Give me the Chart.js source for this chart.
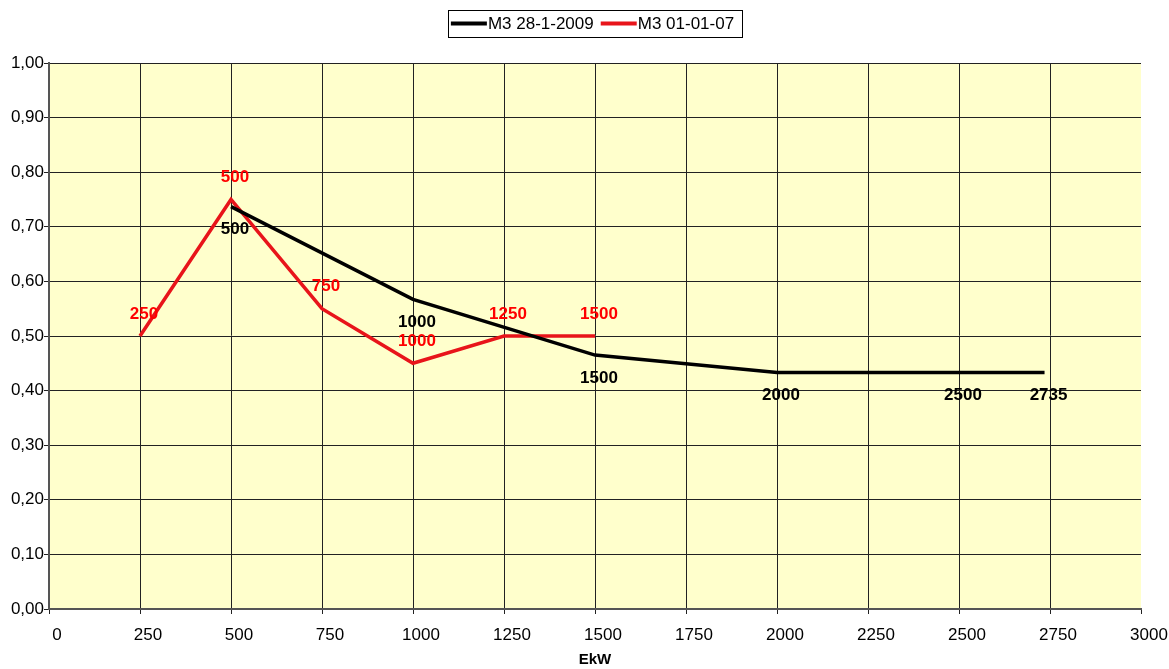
<!DOCTYPE html>
<html>
<head>
<meta charset="utf-8">
<script src="https://cdn.jsdelivr.net/npm/chart.js@4/dist/chart.umd.min.js"></script>
<style>
	html, body { margin: 0; padding: 0; background: #fff; }
	#wrap { width: 1169px; height: 669px; }
</style>
</head>
<body>
<div id="wrap"><canvas id="grafico" width="1169" height="669"></canvas></div>
<script>
// dados
const xNovo = [500, 1000, 1500, 2000, 2500, 2735];
const yNovo = [0.737, 0.567, 0.465, 0.433, 0.433, 0.433];
const xAntigo = [250, 500, 750, 1000, 1250, 1500];
const yAntigo = [0.50, 0.75, 0.55, 0.45, 0.50, 0.50];
const nomes = ['M3 28-1-2009', 'M3 01-01-07'];
const tituloX = 'EkW';

const fonte = '"Liberation Sans", Arial, sans-serif';

const pontos = (xs, ys) => xs.map((x, i) => ({ x: x, y: ys[i] }));

// fundo amarelo da área do gráfico
const fundo = {
	id: 'fundo',
	beforeDraw(chart) {
		const a = chart.chartArea, ctx = chart.ctx;
		ctx.save();
		ctx.fillStyle = '#ffffcc';
		ctx.fillRect(a.left, a.top, a.right - a.left, a.bottom - a.top);
		ctx.restore();
	}
};

// rótulos dos pontos (valor de x)
const rotulos = {
	id: 'rotulos',
	afterDatasetsDraw(chart) {
		const ctx = chart.ctx;
		ctx.save();
		ctx.font = 'bold 17px ' + fonte;
		ctx.textAlign = 'center';
		ctx.textBaseline = 'middle';
		chart.data.datasets.forEach((ds, i) => {
			const meta = chart.getDatasetMeta(i);
			const dy = i === 0 ? 23 : -22;
			ctx.fillStyle = i === 0 ? '#000' : '#ff0000';
			meta.data.forEach((p, j) => {
				ctx.fillText(String(ds.data[j].x), p.x + 4, p.y + dy);
			});
		});
		ctx.restore();
	}
};

// legenda com moldura
const legenda = {
	id: 'legenda',
	afterDraw(chart) {
		const ctx = chart.ctx;
		ctx.save();
		ctx.font = '17px ' + fonte;
		const amostra = 36;
		const larguras = chart.data.datasets.map(ds => amostra + 2 + ctx.measureText(ds.label).width + 6);
		const total = larguras.reduce((a, b) => a + b, 0) + 4;
		const meio = (chart.chartArea.left + chart.chartArea.right) / 2;
		let x = meio - total / 2;
		const topo = 10, alt = 27;
		ctx.strokeStyle = '#000';
		ctx.lineWidth = 1;
		ctx.strokeRect(Math.round(x) + 0.5, topo + 0.5, Math.round(total), alt);
		x += 3;
		const yc = topo + alt / 2 + 1;
		chart.data.datasets.forEach((ds, i) => {
			ctx.strokeStyle = ds.borderColor;
			ctx.lineWidth = 4;
			ctx.beginPath();
			ctx.moveTo(x, yc - 1);
			ctx.lineTo(x + amostra, yc - 1);
			ctx.stroke();
			ctx.fillStyle = '#000';
			ctx.textBaseline = 'middle';
			ctx.fillText(ds.label, x + amostra + 1, yc);
			x += larguras[i];
		});
		ctx.restore();
	}
};

const ctx = document.getElementById('grafico').getContext('2d');
const chart = new Chart(ctx, {
	type: 'line',
	data: {
		datasets: [{
			label: nomes[0],
			data: pontos(xNovo, yNovo),
			borderColor: '#000000',
			borderWidth: 3.5,
			pointRadius: 0,
			tension: 0
		}, {
			label: nomes[1],
			data: pontos(xAntigo, yAntigo),
			borderColor: '#e8141a',
			borderWidth: 3.5,
			pointRadius: 0,
			tension: 0
		}]
	},
	options: {
		responsive: false,
		animation: false,
		layout: { padding: { top: 63, right: 28, bottom: 0, left: 0 } },
		plugins: {
			legend: { display: false },
			tooltip: { enabled: false }
		},
		scales: {
			x: {
				type: 'linear',
				min: 0,
				max: 3000,
				ticks: {
					stepSize: 250,
					color: '#000',
					font: { family: fonte, size: 17 },
					labelOffset: 8,
					padding: 11,
					maxRotation: 0,
					callback: v => String(v)
				},
				grid: {
					color: c => (c.tick && c.tick.value === 3000) ? 'rgba(0,0,0,0)' : '#222',
					tickColor: '#222',
					lineWidth: 1,
					tickLength: 5
				},
				border: { color: '#555', width: 2 },
				title: {
					display: true,
					text: tituloX,
					color: '#000',
					font: { family: fonte, size: 15, weight: 'bold' },
					padding: { top: 0, bottom: 0 }
				},
				afterFit(s) {
					s.height = 60;
					s.paddingLeft = 0;
					s.paddingRight = 0;
				}
			},
			y: {
				min: 0,
				max: 1,
				ticks: {
					stepSize: 0.1,
					color: '#000',
					font: { family: fonte, size: 17 },
					padding: 0,
					callback: v => v.toFixed(2).replace('.', ',')
				},
				grid: { color: '#222', lineWidth: 1, tickLength: 5 },
				border: { color: '#555', width: 2 },
				afterFit(s) { s.width = 49; }
			}
		}
	},
	plugins: [fundo, rotulos, legenda]
});
</script>
</body>
</html>
